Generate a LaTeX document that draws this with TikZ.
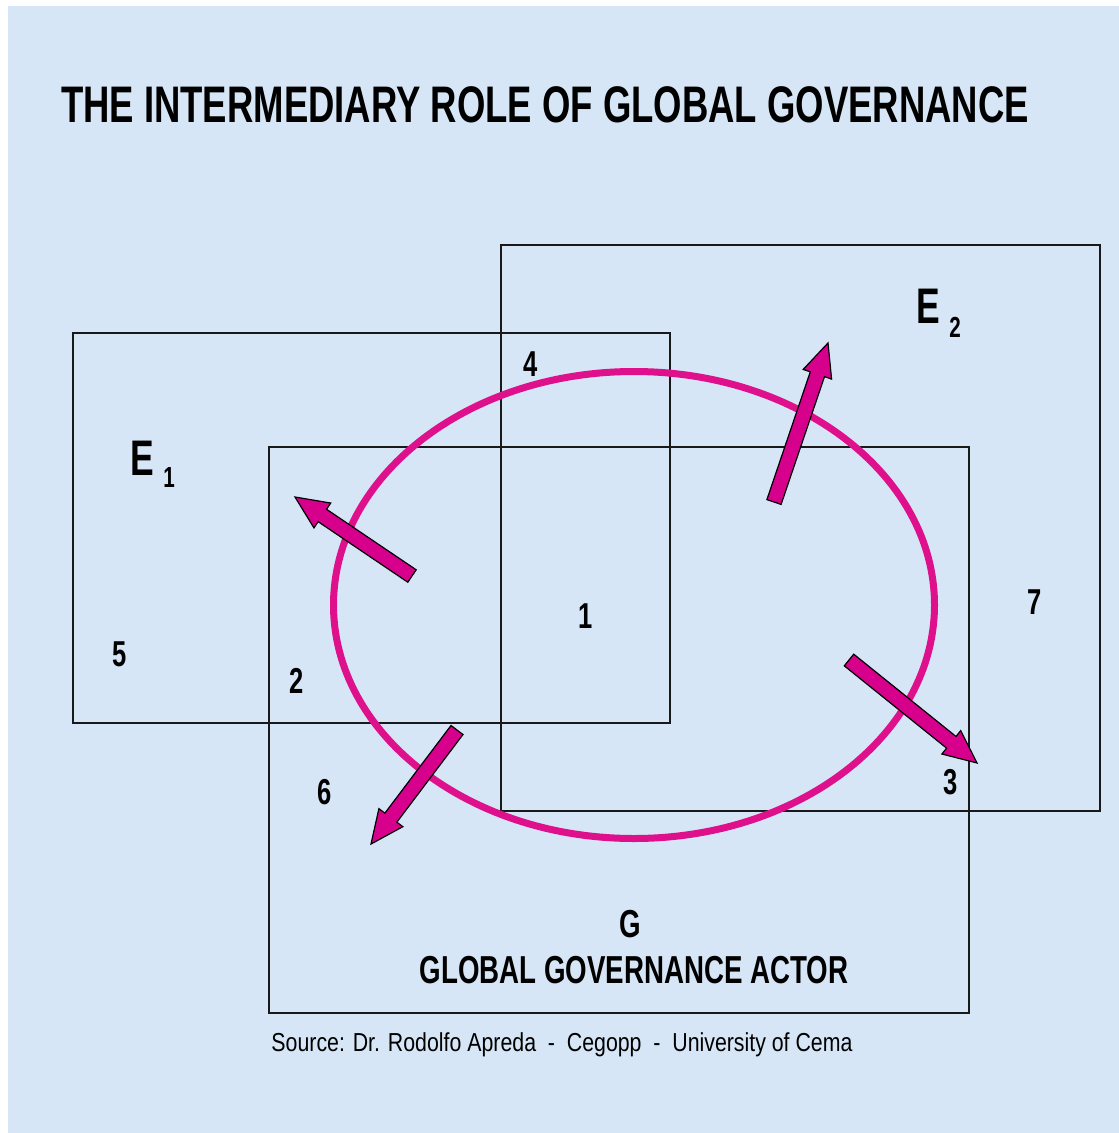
\documentclass[tikz,border=0pt]{standalone}
\usepackage{fontspec}
\setmainfont{Liberation Sans}
\newfontfamily\narrowA{Liberation Sans}[FakeStretch=0.71]
\newfontfamily\narrowB{Liberation Sans}[FakeStretch=0.82]
\usetikzlibrary{calc,shapes.geometric}
\definecolor{bgblue}{RGB}{214,230,246}
\definecolor{magent}{RGB}{222,16,140}
\definecolor{arrfill}{RGB}{214,0,140}
\definecolor{boxline}{RGB}{25,25,25}
\tikzset{
  box/.style={draw=boxline, line width=1.3pt, inner sep=0pt, fill=none},
  ring/.style={draw=magent, line width=7pt, ellipse, inner sep=0pt},
  barrow/.style={draw=black, line width=1.2pt, fill=arrfill, line join=miter},
  lbl/.style={font=\narrowA\bfseries\fontsize{36}{40}\selectfont, inner sep=0pt, anchor=base},
  elbl/.style={font=\narrowA\bfseries\fontsize{50}{56}\selectfont, inner sep=0pt, anchor=base},
  sublbl/.style={font=\narrowA\bfseries\fontsize{29}{32}\selectfont, inner sep=0pt, anchor=base},
}
\newcommand\blockarr[2]{%
  \coordinate (#2-base) at ($(#2)!33pt!(#1)$);
  \draw[barrow] ($(#1)!7.5pt!90:(#2)$) -- ($(#2-base)!7.5pt!90:(#2)$)
    -- ($(#2-base)!15pt!90:(#2)$) -- (#2) -- ($(#2-base)!15pt!-90:(#2)$)
    -- ($(#2-base)!7.5pt!-90:(#2)$) -- ($(#1)!7.5pt!-90:(#2)$) -- cycle;}
\begin{document}
\begin{tikzpicture}[x=1pt,y=-1pt]
\useasboundingbox (0,0) rectangle (1119,1133);
\fill[white] (0,0) rectangle (1119,1133);
\fill[bgblue] (8,6) rectangle (1119,1133);

% boxes
\node[box, minimum width=597pt, minimum height=390pt] (boxE1) at (371.5,528) {};
\node[box, minimum width=599pt, minimum height=566pt] (boxE2) at (800.5,528) {};
\node[box, minimum width=700pt, minimum height=566pt] (boxG) at (619,730) {};

% ring
\node[ring, minimum width=601pt, minimum height=467pt] (ring) at (634,605) {};

% arrows
\coordinate (t1) at (412,576); \coordinate (h1) at (295,497);
\coordinate (t2) at (774,502); \coordinate (h2) at (828,343);
\coordinate (t3) at (849,660); \coordinate (h3) at (977,763);
\coordinate (t4) at (457,730); \coordinate (h4) at (371,844);
\blockarr{t1}{h1}
\blockarr{t2}{h2}
\blockarr{t3}{h3}
\blockarr{t4}{h4}

% title
\node[font=\narrowA\bfseries\fontsize{51.4}{60}\selectfont, inner sep=0pt, anchor=base] (title) at (545,122) {THE INTERMEDIARY ROLE OF GLOBAL GOVERNANCE};

% E labels
\node[elbl] (E1) at (142,475) {E};
\node[sublbl] (E1s) at (169,487) {1};
\node[elbl] (E2) at (928,323) {E};
\node[sublbl] (E2s) at (955,337) {2};

% region numbers
\node[lbl] (n1) at (586,628) {1};
\node[lbl] (n2) at (297,693) {2};
\node[lbl] (n3) at (951,794) {3};
\node[lbl] (n4) at (531,376) {4};
\node[lbl] (n5) at (120,666) {5};
\node[lbl] (n6) at (325,804) {6};
\node[lbl] (n7) at (1035,614) {7};

% G labels
\node[font=\narrowA\bfseries\fontsize{39}{44}\selectfont, inner sep=0pt, anchor=base] (G) at (630,937) {G};
\node[font=\narrowA\bfseries\fontsize{39}{44}\selectfont, inner sep=0pt, anchor=base] (gga) at (634,983) {GLOBAL GOVERNANCE ACTOR};

% source
\node[font=\narrowB\fontsize{26}{30}\selectfont, inner sep=0pt, anchor=base] (src) at (562,1051) {Source: Dr. Rodolfo Apreda~~-~~Cegopp~~-~~University of Cema};
\end{tikzpicture}
\end{document}
